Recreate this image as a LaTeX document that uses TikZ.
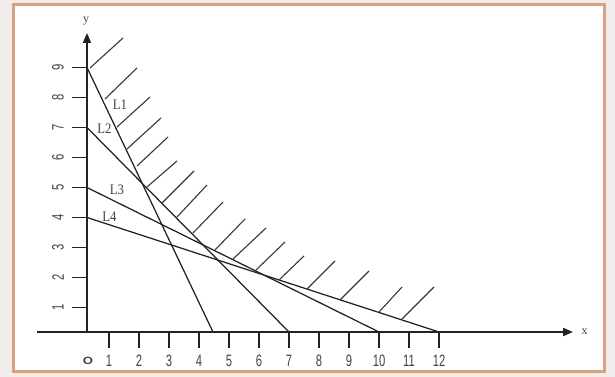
\documentclass[tikz,border=0pt]{standalone}
\usepackage{fontspec}
\setmainfont{Liberation Serif}
\newfontfamily\digfont[FakeStretch=0.68]{Liberation Sans}
\newfontfamily\lblfont[FakeStretch=0.88]{Liberation Serif}
\newfontfamily\ofont[FakeStretch=1.25]{Liberation Sans}
\usetikzlibrary{arrows.meta}
\definecolor{framecol}{HTML}{D9A17C}
\definecolor{bgcol}{HTML}{F1ECEC}
\definecolor{ink}{HTML}{222222}
\begin{document}
\begin{tikzpicture}[x=1pt,y=-1pt,
  axis/.style={line width=1.9pt, draw=ink},
  tickmark/.style={line width=1.7pt, draw=ink},
  bline/.style={line width=1.25pt, draw=ink},
  hatchline/.style={line width=1.1pt, draw=ink!90},
  numlab/.style={font=\digfont\fontsize{16.5}{17}\selectfont, text=ink!85, inner sep=0pt},
  llab/.style={font=\lblfont\fontsize{14.5}{15}\selectfont, text=ink!85, inner sep=0pt},
  axlab/.style={font=\fontsize{12}{12}\selectfont, text=ink!85, inner sep=0pt},
  arr/.style={-{Triangle[length=10pt,width=8pt]}}
]
\useasboundingbox (0,0) rectangle (615,377);
\fill[bgcol] (0,0) rectangle (615,377);
\draw[framecol, line width=3pt, fill=white] (13.5,4.5) rectangle (604.5,371.5);

% axes
\coordinate (o) at (87,332);
\coordinate (ytip) at (87,33);
\coordinate (xl) at (37,332);
\coordinate (xtip) at (573,332);
\draw[axis, arr] (87,333) -- (ytip);
\draw[axis, arr] (xl) -- (xtip);
\node[axlab] (ylab) at (86,21) {y};
\node[axlab] (xlab) at (584.5,332) {x};
\node[font=\ofont\bfseries\fontsize{10.5}{10.5}\selectfont, text=ink!85, inner sep=0pt] (olab) at (88,360.5) {O};

% x ticks
\foreach \i in {1,...,12}{
  \coordinate (xt\i) at ({79+30*\i},332);
  \draw[tickmark] (xt\i) -- ++(0,16);
  \node[numlab] (xn\i) at ({79+30*\i},361) {\i};
}
% y ticks
\foreach \j in {1,...,9}{
  \coordinate (yt\j) at (87,{337.5-30*\j});
  \draw[tickmark] (yt\j) -- ++(-15,0);
  \node[numlab, rotate=90] (yn\j) at (58,{337.5-30*\j}) {\j};
}

% boundary lines
\coordinate (x45) at (213,332);
\draw[bline] (yt9) -- (x45);
\draw[bline] (yt7) -- (xt7);
\draw[bline] (yt5) -- (xt10);
\draw[bline] (yt4) -- (xt12);

% line labels
\node[llab] (l1) at (120,104.5) {L1};
\node[llab] (l2) at (104.5,129) {L2};
\node[llab] (l3) at (117,190) {L3};
\node[llab] (l4) at (109.5,216.5) {L4};

% hatching
\foreach \a/\b/\c/\d in {
  90/68/123/38, 105/99/137/68, 117/127/150/97, 127/149/161/118,
  137/166/168/137, 147/187/177/161, 162/203/194/171, 177/217/207/185,
  193/233/223/202, 215/250/245/219, 233/259/266/228, 256/270/285/242,
  279/280/304/256, 307/289/335/261, 340/300/369/271, 379/312/402/287,
  402/319/434/287}{
  \draw[hatchline] (\a,\b) -- (\c,\d);
}
\end{tikzpicture}
\end{document}
